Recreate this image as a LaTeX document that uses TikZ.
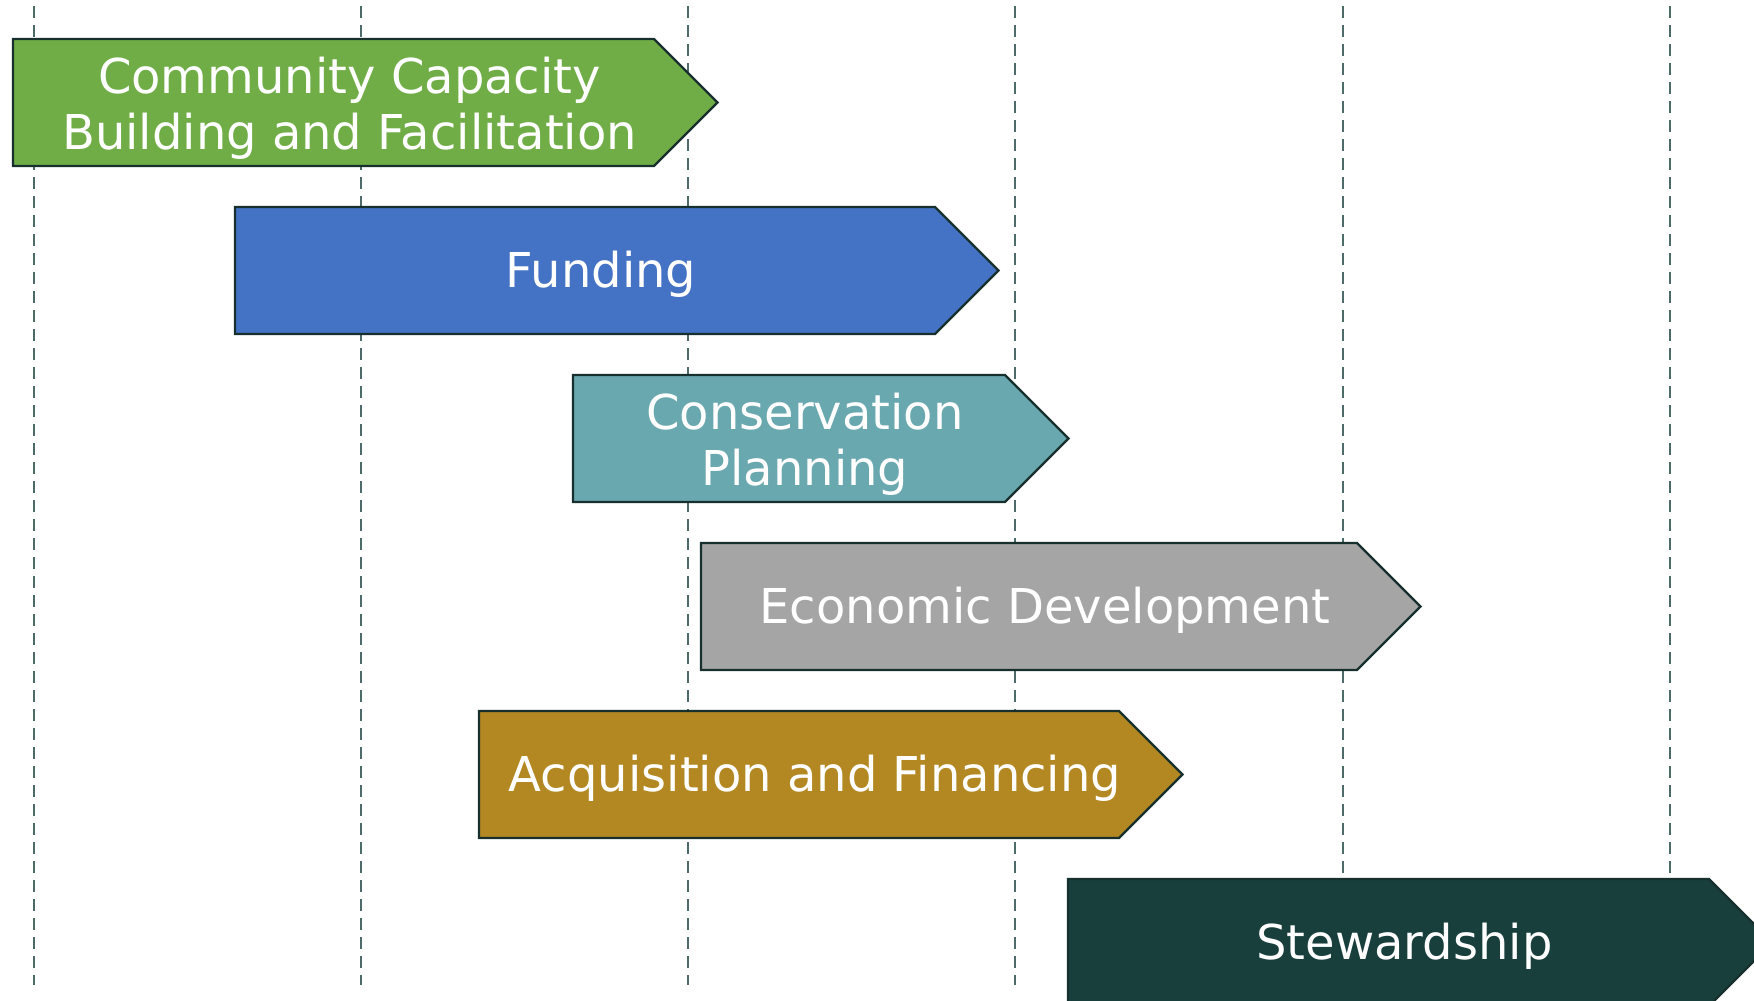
\documentclass[tikz,border=0pt]{standalone}
\usepackage{fontspec}
\setmainfont{DejaVu Sans}
\definecolor{cgreen}{HTML}{70AD47}
\definecolor{cblue}{HTML}{4472C4}
\definecolor{cteal}{HTML}{6AA8AF}
\definecolor{cgray}{HTML}{A5A5A5}
\definecolor{cgold}{HTML}{B38822}
\definecolor{cdark}{HTML}{183F3C}
\definecolor{cedge}{HTML}{17302D}
\definecolor{cgrid}{HTML}{4F6B69}
\newcommand\phasebar[5]{%
  \filldraw[barshape, fill=#5] (#2,#4) -- (#3,#4) -- ({#3+63.5},{#4+63.5}) -- (#3,{#4+127}) -- (#2,{#4+127}) -- cycle;
}
\begin{document}
\begin{tikzpicture}[x=1pt,y=-1pt,
  barshape/.style={draw=cedge, line width=2.2pt, line join=miter},
  gridline/.style={draw=cgrid, line width=1.6pt, dash pattern=on 12pt off 7pt},
  barlabel/.style={text=white, font=\fontsize{48}{56}\selectfont, align=center, inner sep=0pt}]
\useasboundingbox (0,0) rectangle (1754,1001);
\clip (0,0) rectangle (1754,1001);
% vertical dashed grid lines
\foreach \gx [count=\i] in {34,361,688,1015,1343,1670}{
  \coordinate (gt\i) at (\gx,6);
  \coordinate (gb\i) at (\gx,985);
  \draw[gridline] (gt\i) -- (gb\i);
}
% bars
\phasebar{community}{13}{654}{39}{cgreen}
\node[barlabel, anchor=center] (community) at (349.5,108) {Community Capacity\\Building and Facilitation};
\phasebar{funding}{235}{935}{207}{cblue}
\node[barlabel, anchor=base] (funding) at (601,287.5) {Funding};
\phasebar{conservation}{573}{1005}{375}{cteal}
\node[barlabel, anchor=center] (conservation) at (805,444) {Conservation\\Planning};
\phasebar{economic}{701}{1357}{543}{cgray}
\node[barlabel, anchor=base] (economic) at (1045,623.5) {Economic Development};
\phasebar{acquisition}{479}{1119}{711}{cgold}
\node[barlabel, anchor=base] (acquisition) at (815,791.5) {Acquisition and Financing};
\phasebar{stewardship}{1068}{1709}{879}{cdark}
\node[barlabel, anchor=base] (stewardship) at (1404.5,959.5) {Stewardship};
\end{tikzpicture}
\end{document}
